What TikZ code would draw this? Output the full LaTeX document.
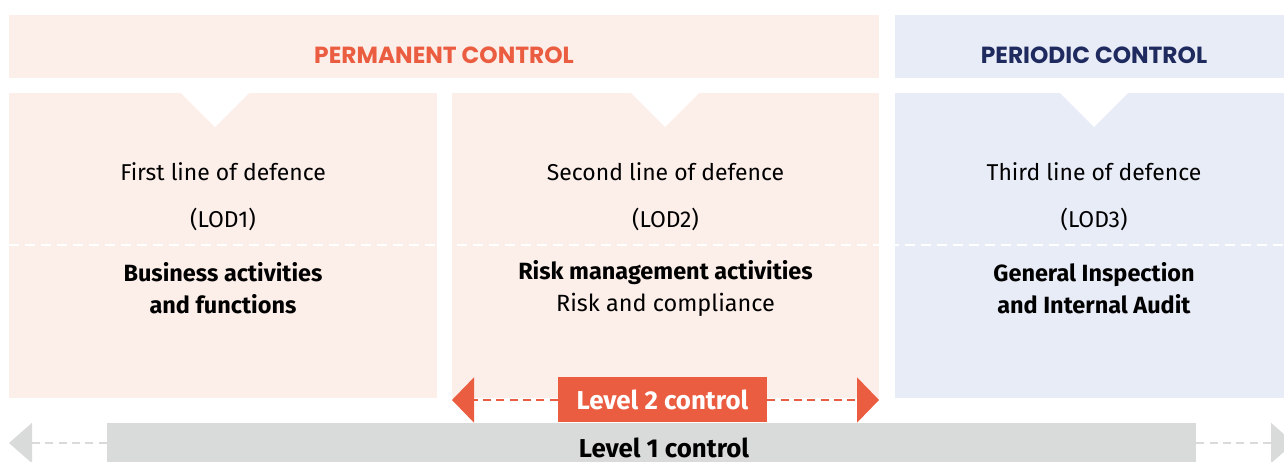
\documentclass[tikz,border=0pt]{standalone}
\usepackage{fontspec}
\setmainfont{Fira Sans}
\newfontfamily\headfont{Poppins}
\usetikzlibrary{arrows.meta}

\definecolor{peach}{HTML}{FCEEE9}
\definecolor{lavender}{HTML}{E8ECF7}
\definecolor{coral}{HTML}{EB5D40}
\definecolor{navy}{HTML}{1F2A5E}
\definecolor{lightgrey}{HTML}{D9DBDA}

\begin{document}
\begin{tikzpicture}[x=0.75pt, y=-0.75pt, node distance=35.25pt]
	\tikzstyle{header} = [rectangle, inner sep=0pt, minimum height=47.25pt]
	\tikzstyle{headtext} = [font=\headfont\bfseries\fontsize{17.5}{20}\selectfont]
	\tikzstyle{panel} = [rectangle, inner sep=0pt, minimum height=228.75pt]
	\tikzstyle{line} = [font=\fontsize{17.2}{20}\selectfont]
	\tikzstyle{desc} = [align=center, font=\fontsize{17.6}{24}\selectfont]
	\tikzstyle{notch} = [fill=white]
	\tikzstyle{level} = [font=\bfseries\fontsize{19.4}{22}\selectfont]
	\tikzstyle{redarrow} = [coral, line width=1.5pt, dash pattern=on 6pt off 4pt, -{Triangle[length=16.5pt, width=33.75pt]}]
	\tikzstyle{greyarrow} = [lightgrey, line width=1.5pt, dash pattern=on 6pt off 4pt, -{Triangle[length=17.25pt, width=30pt]}]
	\path[use as bounding box, clip] (0,0) rectangle (1284,461);
	% column headers
	\node (permanent) [header, fill=peach, minimum width=652.5pt] at (444,46.5) {};
	\node (periodic) [header, fill=lavender, minimum width=298.5pt] at (1094,46.5) {};
	\node (permanentText) [headtext, text=coral] at (444,55) {PERMANENT CONTROL};
	\node (periodicText) [headtext, text=navy] at (1094,55) {PERIODIC CONTROL};
	% the three lines of defence
	\node (lodOneBox) [panel, fill=peach, minimum width=321pt] at (223,245.5) {};
	\node (lodTwoBox) [panel, fill=peach, minimum width=320.25pt] at (665.5,245.5) {};
	\node (lodThreeBox) [panel, fill=lavender, minimum width=298.5pt] at (1094,245.5) {};
	\fill[notch] (181,93) -- (249,93) -- (215,127) -- cycle;
	\fill[notch] (631,93) -- (699,93) -- (665,127) -- cycle;
	\fill[notch] (1060,93) -- (1128,93) -- (1094,127) -- cycle;
	\draw[white, line width=1.5pt, dash pattern=on 7.5pt off 4.5pt] (9,245) -- (1284,245);
	\node (lodOneTitle) [line] at (223,172) {First line of defence};
	\node (lodOneCode) [line, below of=lodOneTitle] {(LOD1)};
	\node (lodOneDesc) [desc, below of=lodOneCode, yshift=-17pt] {\textbf{Business activities}\\\textbf{and functions}};
	\node (lodTwoTitle) [line] at (665.5,172) {Second line of defence};
	\node (lodTwoCode) [line, below of=lodTwoTitle] {(LOD2)};
	\node (lodTwoDesc) [desc, below of=lodTwoCode, yshift=-17pt] {\textbf{Risk management activities}\\Risk and compliance};
	\node (lodThreeTitle) [line] at (1094,172) {Third line of defence};
	\node (lodThreeCode) [line, below of=lodThreeTitle] {(LOD3)};
	\node (lodThreeDesc) [desc, below of=lodThreeCode, yshift=-17pt] {\textbf{General Inspection}\\\textbf{and Internal Audit}};
	% control levels
	\node (levelOne) [rectangle, fill=lightgrey, inner sep=0pt, minimum width=816.75pt, minimum height=39pt] at (651.5,449) {};
	\node (levelOneText) [level] at (664,448) {Level 1 control};
	\node (levelTwo) [level, rectangle, fill=coral, text=white, inner sep=0pt, minimum width=156.75pt, minimum height=33.75pt] at (662.5,399.5) {Level 2 control};
	\coordinate (levelTwoLeft) at (452,400);
	\coordinate (levelTwoRight) at (879,400);
	\coordinate (levelOneLeft) at (9,443);
	\coordinate (levelOneRight) at (1294,443);
	\draw [redarrow] (levelTwo.west |- levelTwoLeft) -- (levelTwoLeft);
	\draw [redarrow] (levelTwo.east |- levelTwoRight) -- (levelTwoRight);
	\draw [greyarrow] (levelOne.west |- levelOneLeft) -- (levelOneLeft);
	\draw [greyarrow] (levelOne.east |- levelOneRight) -- (levelOneRight);
\end{tikzpicture}
\end{document}
